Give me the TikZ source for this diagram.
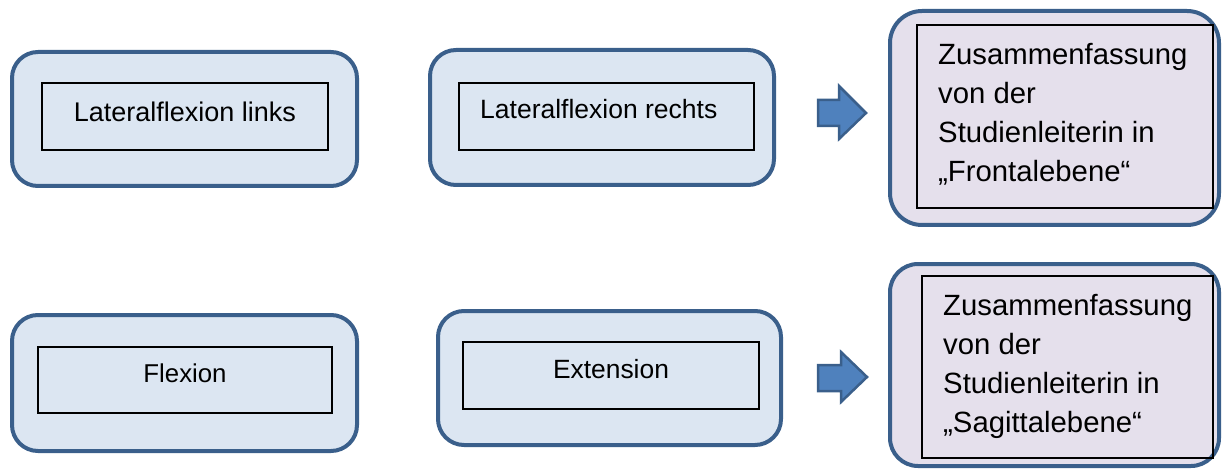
\documentclass[tikz,border=0pt]{standalone}
\usepackage{fontspec}
\setmainfont{Liberation Sans}
\definecolor{bordblue}{HTML}{3A5F8B}
\definecolor{fillblue}{HTML}{DCE6F2}
\definecolor{filllav}{HTML}{E5E0EC}
\definecolor{arrowblue}{HTML}{4F81BD}
\tikzset{
  outerbox/.style={draw=bordblue, line width=4pt, fill=fillblue, rounded corners=26pt, inner sep=0pt, anchor=center},
  sumbox/.style={outerbox, fill=filllav, rounded corners=32pt},
  innerbox/.style={draw=black, line width=1.3pt, inner sep=0pt, anchor=center},
  lbl/.style={inner sep=0pt},
  sumlbl/.style={inner sep=0pt, anchor=base west, align=left, font=\fontsize{29.3}{39}\selectfont},
  blockarrow/.style={draw=bordblue, line width=2.5pt, fill=arrowblue, line join=miter},
}
\begin{document}
\begin{tikzpicture}[x=1pt, y=-1pt]
\useasboundingbox (0,0) rectangle (1222,470);
% top row
\node[outerbox, minimum width=345pt, minimum height=134pt] (o1) at (184.5,119) {};
\node[innerbox, minimum width=286pt, minimum height=67pt] (i1) at (185,116.5) {};
\node[lbl, anchor=base, font=\fontsize{27}{30}\selectfont] (t1) at (185,122) {Lateralflexion links};

\node[outerbox, minimum width=344pt, minimum height=135pt] (o2) at (602,117.5) {};
\node[innerbox, minimum width=295pt, minimum height=67pt] (i2) at (606.5,116.5) {};
\node[lbl, anchor=base west, font=\fontsize{26.5}{30}\selectfont] (t2) at (480,119) {Lateralflexion rechts};

\draw[blockarrow] (818,100) -- (839,100) -- (839,86) -- (866,113) -- (839,139) -- (839,126) -- (818,126) -- cycle;

\node[sumbox, minimum width=329pt, minimum height=214pt] (o3) at (1054.5,118) {};
\node[innerbox, minimum width=296pt, minimum height=183pt] (i3) at (1065,116.5) {};
\node[sumlbl] (t3) at (938,182) {Zusammenfassung\\von der\\Studienleiterin in\\„Frontalebene“};

% bottom row
\node[outerbox, minimum width=345pt, minimum height=136pt] (o4) at (184.5,383) {};
\node[innerbox, minimum width=294pt, minimum height=66pt] (i4) at (185,380) {};
\node[lbl, anchor=base, font=\fontsize{25.8}{30}\selectfont] (t4) at (185,382) {Flexion};

\node[outerbox, minimum width=343pt, minimum height=134pt] (o5) at (609.5,378) {};
\node[innerbox, minimum width=296pt, minimum height=67pt] (i5) at (611,375.5) {};
\node[lbl, anchor=base, font=\fontsize{26.4}{30}\selectfont] (t5) at (611,378) {Extension};

\draw[blockarrow] (818,365) -- (841,365) -- (841,352) -- (867,377) -- (841,402) -- (841,391) -- (818,391) -- cycle;

\node[sumbox, minimum width=329pt, minimum height=202pt, rounded corners=28pt] (o6) at (1054.5,365) {};
\node[innerbox, minimum width=291pt, minimum height=182pt] (i6) at (1067.5,367) {};
\node[sumlbl] (t6) at (943,432) {Zusammenfassung\\von der\\Studienleiterin in\\„Sagittalebene“};
\end{tikzpicture}
\end{document}
